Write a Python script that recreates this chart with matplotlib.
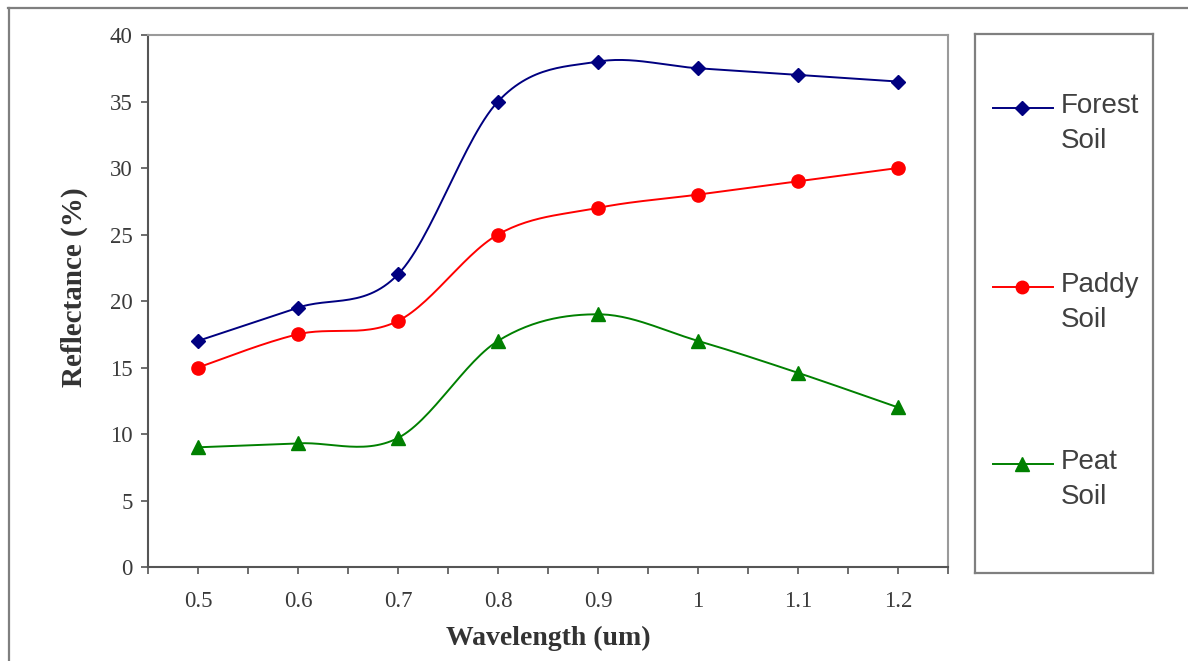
import numpy as np
import matplotlib
matplotlib.use("Agg")
import matplotlib.pyplot as plt
from matplotlib.lines import Line2D

# ---- data ----
wavelength = [0.5, 0.6, 0.7, 0.8, 0.9, 1.0, 1.1, 1.2]
tick_labels = ['0.5', '0.6', '0.7', '0.8', '0.9', '1', '1.1', '1.2']
forest_soil = [17.0, 19.5, 22.0, 35.0, 38.0, 37.5, 37.0, 36.5]
paddy_soil = [15.0, 17.5, 18.5, 25.0, 27.0, 28.0, 29.0, 30.0]
peat_soil = [9.0, 9.3, 9.7, 17.0, 19.0, 17.0, 14.6, 12.0]
series_names = ['Forest\nSoil', 'Paddy\nSoil', 'Peat\nSoil']
y_ticks = [0, 5, 10, 15, 20, 25, 30, 35, 40]


def smooth(x, y, n=30):
    """Excel-like smoothed line (Catmull-Rom Bezier segments)."""
    x = np.asarray(x, float)
    y = np.asarray(y, float)
    px = np.concatenate([[x[0]], x, [x[-1]]])
    py = np.concatenate([[y[0]], y, [y[-1]]])
    xs, ys = [], []
    t = np.linspace(0, 1, n)
    for i in range(1, len(px) - 2):
        p0 = np.array([px[i - 1], py[i - 1]])
        p1 = np.array([px[i], py[i]])
        p2 = np.array([px[i + 1], py[i + 1]])
        p3 = np.array([px[i + 2], py[i + 2]])
        c1 = p1 + (p2 - p0) / 6.0
        c2 = p2 - (p3 - p1) / 6.0
        b = ((1 - t) ** 3)[:, None] * p1 + (3 * (1 - t) ** 2 * t)[:, None] * c1 \
            + (3 * (1 - t) * t ** 2)[:, None] * c2 + (t ** 3)[:, None] * p2
        xs.extend(b[:, 0])
        ys.extend(b[:, 1])
    return np.array(xs), np.array(ys)


W, H = 1188, 661
fig = plt.figure(figsize=(W / 100, H / 100), dpi=100)
fig.patch.set_facecolor('white')

# outer chart border (cropped)
fig.add_artist(Line2D([8 / W, 1.0], [1 - 8 / H, 1 - 8 / H], transform=fig.transFigure,
                      color='#7f7f7f', lw=1.6))
fig.add_artist(Line2D([9 / W, 9 / W], [0.0, 1 - 8 / H], transform=fig.transFigure,
                      color='#7f7f7f', lw=1.6))

ax = fig.add_axes([148 / W, 1 - 567 / H, 800 / W, 532 / H])

styles = [
    dict(color='#000080', marker='D', ms=7.5),
    dict(color='#ff0000', marker='o', ms=9.5),
    dict(color='#008000', marker='^', ms=10),
]
for vals, st in zip([forest_soil, paddy_soil, peat_soil], styles):
    sx, sy = smooth(wavelength, vals)
    ax.plot(sx, sy, color=st['color'], lw=1.4, zorder=3)
    ax.plot(wavelength, vals, linestyle='none', marker=st['marker'], ms=st['ms'],
            color=st['color'], markeredgecolor=st['color'], zorder=4)

ax.set_xlim(0.45, 1.25)
ax.set_ylim(0, 40)
ax.set_xticks(wavelength)
ax.set_xticklabels(tick_labels)
ax.set_xticks(np.arange(0.45, 1.2501, 0.1), minor=True)
ax.set_yticks(y_ticks)
ax.set_yticklabels([str(v) for v in y_ticks])

for s in ['left', 'bottom']:
    ax.spines[s].set_color('#555555')
    ax.spines[s].set_linewidth(1.5)
for s in ['top', 'right']:
    ax.spines[s].set_color('#9a9a9a')
    ax.spines[s].set_linewidth(1.5)

ax.tick_params(axis='both', which='both', direction='out', length=5, width=1.2,
               color='#555555', labelcolor='#3a3a3a')
ax.tick_params(axis='x', which='major', pad=12)
ax.tick_params(axis='y', pad=6)
for lab in ax.get_xticklabels() + ax.get_yticklabels():
    lab.set_fontfamily('Liberation Serif')
    lab.set_fontsize(16.5)

ax.set_xlabel('Wavelength (um)', fontfamily='Liberation Serif', fontweight='bold',
              fontsize=20, color='#333333', labelpad=10)
ax.set_ylabel('Reflectance (%)', fontfamily='Liberation Serif', fontweight='bold',
              fontsize=21, color='#333333')
ax.yaxis.set_label_coords(-0.075, 0.526)

# legend box
lax = fig.add_axes([975 / W, 1 - 573 / H, 178 / W, 539 / H])
lax.set_xlim(0, 178)
lax.set_ylim(539, 0)
lax.set_xticks([])
lax.set_yticks([])
for s in lax.spines.values():
    s.set_color('#7f7f7f')
    s.set_linewidth(1.6)

legend_y = [74, 253, 430]
legend_ms = [7.5, 9, 9.5]
for name, st, ly, lms in zip(series_names, styles, legend_y, legend_ms):
    lax.add_line(Line2D([18, 78], [ly, ly], color=st['color'], lw=1.4))
    lax.add_line(Line2D([47], [ly], marker=st['marker'], ms=lms, color=st['color'],
                        linestyle='none'))
    lax.text(86, ly - 15, name, fontfamily='Liberation Sans', fontsize=20,
             color='#404040', va='top', ha='left', linespacing=1.45)

fig.savefig('out.png', dpi=100)
